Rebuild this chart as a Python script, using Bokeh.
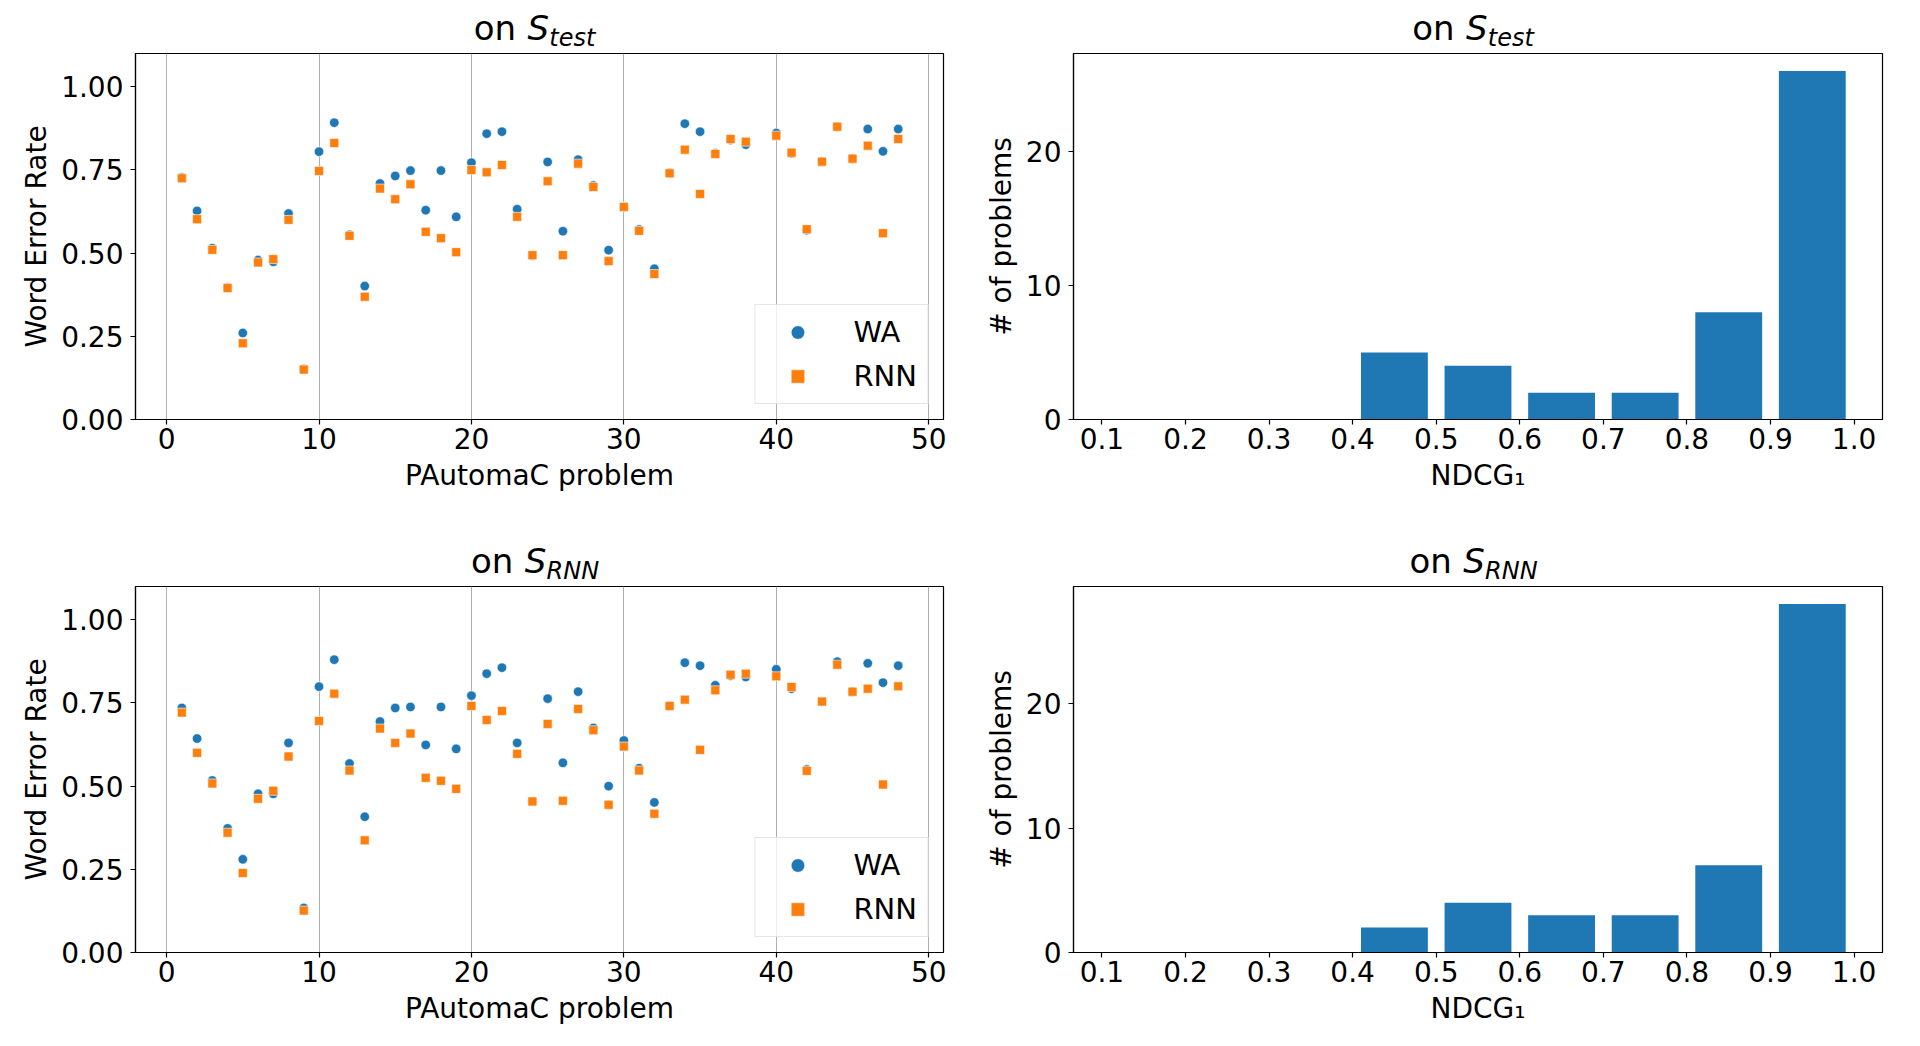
from bokeh.plotting import figure
from bokeh.layouts import column, row
from bokeh.models import Range1d, FixedTicker, NumeralTickFormatter
from bokeh.core.properties import value
from bokeh.embed import file_html
from bokeh.resources import INLINE

# ---------------- data ----------------
problems = [1, 2, 3, 4, 5, 6, 7, 8, 9, 10, 11, 12, 13, 14, 15, 16, 17, 18, 19, 20,
            21, 22, 23, 24, 25, 26, 27, 28, 29, 30, 31, 32, 33, 34, 35, 36, 37, 38,
            40, 41, 42, 43, 44, 45, 46, 47, 48]

wa_test = [0.727, 0.627, 0.515, 0.397, 0.260, 0.479, 0.474, 0.619, 0.152, 0.805,
           0.892, 0.555, 0.401, 0.709, 0.732, 0.748, 0.629, 0.748, 0.609, 0.772,
           0.859, 0.865, 0.632, 0.492, 0.774, 0.566, 0.781, 0.703, 0.509, 0.639,
           0.571, 0.453, 0.741, 0.889, 0.865, 0.800, 0.840, 0.826,
           0.861, 0.800, 0.569, 0.775, 0.880, 0.784, 0.873, 0.806, 0.873]
rnn_test = [0.725, 0.602, 0.510, 0.395, 0.229, 0.472, 0.482, 0.600, 0.150, 0.747,
            0.831, 0.552, 0.369, 0.694, 0.662, 0.707, 0.564, 0.545, 0.503, 0.750,
            0.743, 0.765, 0.609, 0.494, 0.716, 0.494, 0.769, 0.699, 0.476, 0.639,
            0.567, 0.437, 0.740, 0.811, 0.678, 0.798, 0.843, 0.835,
            0.853, 0.802, 0.572, 0.775, 0.880, 0.784, 0.823, 0.560, 0.843]

wa_rnn = [0.735, 0.643, 0.517, 0.373, 0.280, 0.477, 0.477, 0.630, 0.134, 0.799,
          0.880, 0.568, 0.408, 0.694, 0.735, 0.738, 0.624, 0.738, 0.612, 0.772,
          0.838, 0.856, 0.630, 0.454, 0.763, 0.570, 0.784, 0.675, 0.500, 0.637,
          0.554, 0.451, 0.741, 0.871, 0.862, 0.803, 0.832, 0.828,
          0.851, 0.793, 0.550, 0.754, 0.874, 0.784, 0.869, 0.811, 0.862]
rnn_rnn = [0.721, 0.600, 0.508, 0.360, 0.239, 0.462, 0.486, 0.589, 0.126, 0.696,
           0.778, 0.547, 0.337, 0.673, 0.630, 0.658, 0.525, 0.516, 0.492, 0.741,
           0.699, 0.726, 0.597, 0.454, 0.687, 0.456, 0.732, 0.668, 0.444, 0.619,
           0.547, 0.417, 0.741, 0.760, 0.609, 0.788, 0.835, 0.838,
           0.830, 0.798, 0.546, 0.754, 0.865, 0.784, 0.793, 0.505, 0.800]

bin_left = [0.1, 0.2, 0.3, 0.4, 0.5, 0.6, 0.7, 0.8, 0.9]
counts_test = [0, 0, 0, 5, 4, 2, 2, 8, 26]
counts_rnn = [0, 0, 0, 2, 4, 3, 3, 7, 28]

scatter_xticks = [0, 10, 20, 30, 40, 50]
scatter_yticks = [0.0, 0.25, 0.5, 0.75, 1.0]
hist_xticks = [0.1, 0.2, 0.3, 0.4, 0.5, 0.6, 0.7, 0.8, 0.9, 1.0]
hist_yticks = [0, 10, 20]

BLUE = "#1f77b4"
ORANGE = "#ff7f0e"
FONT = "DejaVu Sans"
TICK_FS = "28px"
LABEL_FS = "28px"
TITLE_PX = 34
SUB_PX = 24

FRAME_H = 366
W1, BL1, BR1 = 975, 135, 32
W2, BL2, BR2 = 945, 98, 38


def style_axes(p):
    for ax in (p.xaxis, p.yaxis):
        ax.axis_line_color = "black"
        ax.axis_line_width = 1.2
        ax.major_tick_line_color = "black"
        ax.major_tick_line_width = 1.2
        ax.major_tick_out = 5
        ax.major_tick_in = 0
        ax.minor_tick_line_color = None
        ax.major_label_text_font = FONT
        ax.major_label_text_font_size = TICK_FS
        ax.major_label_text_color = "black"
        ax.axis_label_text_font = FONT
        ax.axis_label_text_font_size = LABEL_FS
        ax.axis_label_text_font_style = "normal"
        ax.axis_label_text_color = "black"
    p.xaxis.major_label_standoff = 3
    p.yaxis.major_label_standoff = 7
    p.xaxis.axis_label_standoff = 7
    p.yaxis.axis_label_standoff = 5
    p.outline_line_color = "black"
    p.outline_line_width = 1.2
    p.outline_line_alpha = 1.0
    p.background_fill_color = "white"
    p.border_fill_color = "white"


def title_strip(width, height, frame_center, sub, start_off):
    """A thin figure above a panel holding its title 'on S_sub' as text glyphs."""
    t = figure(width=width, height=height, x_range=Range1d(0, width),
               y_range=Range1d(0, height), output_backend="svg",
               toolbar_location=None, x_axis_type=None, y_axis_type=None,
               min_border=0, min_border_left=0, min_border_right=0,
               min_border_top=0, min_border_bottom=0)
    t.grid.visible = False
    t.outline_line_color = None
    t.background_fill_color = "white"
    t.border_fill_color = "white"
    x0 = frame_center + start_off
    main_base = 13.0          # baseline height above strip bottom
    sub_base = 6.5
    ym = main_base + 0.35 * TITLE_PX
    ys = sub_base + 0.35 * SUB_PX
    t.text(x=[x0], y=[ym], text=["on"], text_font=value(FONT),
           text_font_size=f"{TITLE_PX}px", text_color="black",
           text_baseline="middle", text_align="left")
    t.text(x=[x0 + 53.7], y=[ym], text=["S"], text_font=value(FONT),
           text_font_size=f"{TITLE_PX}px", text_font_style="italic", text_color="black",
           text_baseline="middle", text_align="left")
    t.text(x=[x0 + 75.5], y=[ys], text=[sub], text_font=value(FONT),
           text_font_size=f"{SUB_PX}px", text_font_style="italic", text_color="black",
           text_baseline="middle", text_align="left")
    return t


def scatter_fig(wa, rnn, bottom):
    xr = Range1d(-2.04, 50.97)
    yr = Range1d(0, 1.1)
    p = figure(width=W1, height=1 + FRAME_H + bottom, x_range=xr, y_range=yr,
               output_backend="svg", toolbar_location=None,
               min_border_left=BL1, min_border_right=BR1,
               min_border_top=1, min_border_bottom=bottom)
    style_axes(p)
    p.xgrid.grid_line_color = "#b0b0b0"
    p.xgrid.grid_line_width = 1.0
    p.ygrid.grid_line_color = None
    p.xaxis.ticker = FixedTicker(ticks=scatter_xticks)
    p.yaxis.ticker = FixedTicker(ticks=scatter_yticks)
    p.yaxis.formatter = NumeralTickFormatter(format="0.00")
    p.xaxis.axis_label = "PAutomaC problem"
    p.yaxis.axis_label = "Word Error Rate"
    p.scatter(problems, wa, marker="circle", size=9.5, fill_color=BLUE,
              line_color="white", line_width=0.6, legend_label="WA")
    p.scatter(problems, rnn, marker="square", size=9, fill_color=ORANGE,
              line_color="white", line_width=0.6, legend_label="RNN")
    lg = p.legend[0]
    lg.location = "bottom_right"
    lg.margin = 15
    lg.padding = 10
    lg.spacing = 10
    lg.glyph_width = 64
    lg.glyph_height = 34
    lg.label_height = 34
    lg.label_standoff = 24
    lg.label_text_font = FONT
    lg.label_text_font_size = "29px"
    lg.label_text_color = "black"
    lg.border_line_color = "#cccccc"
    lg.border_line_width = 1.2
    lg.background_fill_color = "white"
    lg.background_fill_alpha = 0.8
    return p


def hist_fig(counts, ymax, bottom):
    xr = Range1d(0.066, 1.034)
    yr = Range1d(0, ymax)
    p = figure(width=W2, height=1 + FRAME_H + bottom, x_range=xr, y_range=yr,
               output_backend="svg", toolbar_location=None,
               min_border_left=BL2, min_border_right=BR2,
               min_border_top=1, min_border_bottom=bottom)
    style_axes(p)
    p.xgrid.grid_line_color = None
    p.ygrid.grid_line_color = None
    p.xaxis.ticker = FixedTicker(ticks=hist_xticks)
    p.yaxis.ticker = FixedTicker(ticks=hist_yticks)
    p.xaxis.formatter = NumeralTickFormatter(format="0.0")
    p.xaxis.axis_label = "NDCG\u2081"
    p.yaxis.axis_label = "# of problems"
    centers = [b + 0.05 for b in bin_left]
    p.vbar(x=centers, top=counts, bottom=0, width=0.08, fill_color=BLUE, line_color=None)
    return p


fc1 = BL1 + (W1 - BL1 - BR1) / 2
fc2 = BL2 + (W2 - BL2 - BR2) / 2

TOP_STRIP = 52   # frame top of upper panels at y = 53
MID_STRIP = 44   # frame top of lower panels at y = 586

t1 = title_strip(W1, TOP_STRIP, fc1, "test", -65.7)
t2 = title_strip(W2, TOP_STRIP, fc2, "test", -65.7)
p1 = scatter_fig(wa_test, rnn_test, 122)
p2 = hist_fig(counts_test, 27.3, 122)

t3 = title_strip(W1, MID_STRIP, fc1, "RNN", -68.5)
t4 = title_strip(W2, MID_STRIP, fc2, "RNN", -68.5)
p3 = scatter_fig(wa_rnn, rnn_rnn, 82)
p4 = hist_fig(counts_rnn, 29.4, 82)

layout = column(row(t1, t2), row(p1, p2), row(t3, t4), row(p3, p4))
open("out.html", "w").write(file_html(layout, INLINE))
